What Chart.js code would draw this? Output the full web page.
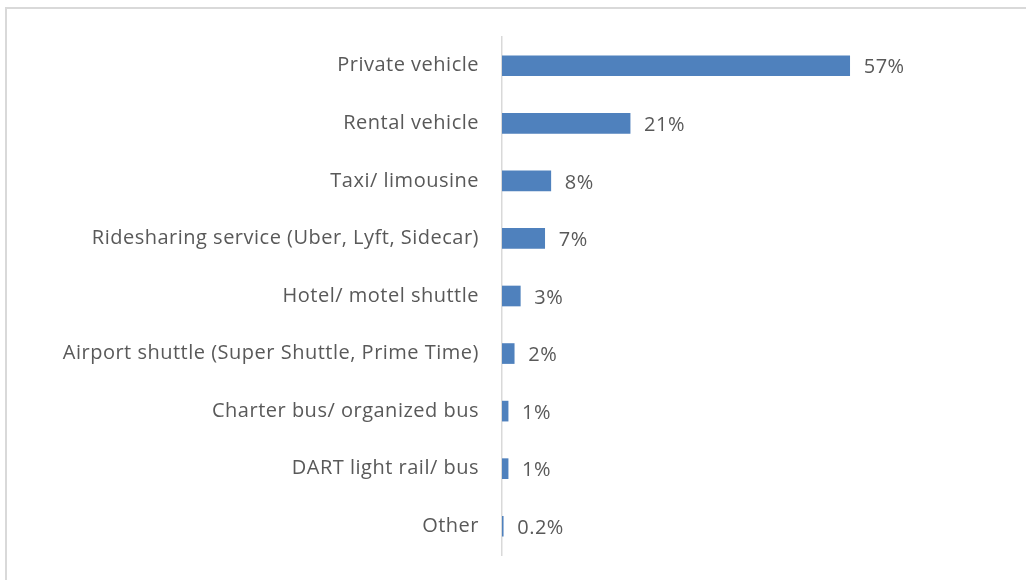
<html lang="en">
<head>
  <meta charset="UTF-8">
  <title>Ground transportation mode</title>
  <script src="https://cdn.jsdelivr.net/npm/chart.js"></script>
  <style>
    body, html {
      margin: 0;
      padding: 0;
      background-color: #ffffff;
      overflow: hidden;
    }
    .frame {
      position: absolute;
      left: 5px;
      top: 7px;
      width: 1100px;
      height: 700px;
      border: 2px solid #d9d9d9;
    }
    #myChart {
      position: absolute;
      left: 0;
      top: 0;
    }
  </style>
</head>
<body>
  <div class="frame"></div>
  <canvas id="myChart" width="1026" height="580"></canvas>

  <script>
    const categories = [
      'Private vehicle',
      'Rental vehicle',
      'Taxi/ limousine',
      'Ridesharing service (Uber, Lyft, Sidecar)',
      'Hotel/ motel shuttle',
      'Airport shuttle (Super Shuttle, Prime Time)',
      'Charter bus/ organized bus',
      'DART light rail/ bus',
      'Other'
    ];
    const shares = [57, 21, 8, 7, 3, 2, 1, 1, 0.2];
    const shareLabels = ['57%', '21%', '8%', '7%', '3%', '2%', '1%', '1%', '0.2%'];

    const textColor = '#595959';
    const fontFamily = '"Open Sans", sans-serif';
    const fontSize = 20;

    // slightly wider lettering for all chart text
    const spacing = {
      id: 'spacing',
      beforeDraw(chart) {
        chart.ctx.letterSpacing = '0.5px';
      }
    };

    // percentage text just past the end of each bar
    const valueLabels = {
      id: 'valueLabels',
      afterDatasetsDraw(chart) {
        const { ctx } = chart;
        const meta = chart.getDatasetMeta(0);
        ctx.save();
        ctx.letterSpacing = '0.5px';
        ctx.fillStyle = textColor;
        ctx.font = fontSize + 'px ' + fontFamily;
        ctx.textAlign = 'left';
        ctx.textBaseline = 'middle';
        meta.data.forEach((bar, i) => {
          ctx.fillText(shareLabels[i], bar.x + 14, bar.y + 2);
        });
        ctx.restore();
      }
    };

    const ctx = document.getElementById('myChart').getContext('2d');
    const myChart = new Chart(ctx, {
      type: 'bar',
      data: {
        labels: categories,
        datasets: [{
          data: shares,
          backgroundColor: '#4f81bd',
          borderWidth: 0,
          barThickness: 20
        }]
      },
      options: {
        indexAxis: 'y',
        responsive: false,
        animation: false,
        layout: {
          padding: { top: 37, bottom: 25, left: 0, right: 36 }
        },
        scales: {
          x: {
            display: false,
            min: 0,
            max: 80
          },
          y: {
            afterFit(scale) {
              scale.width = 502;
              scale.paddingTop = 0;
              scale.paddingBottom = 0;
            },
            grid: { display: false, drawTicks: false },
            border: { display: true, color: '#d9d9d9', width: 1.5 },
            ticks: {
              color: textColor,
              font: { family: fontFamily, size: fontSize },
              padding: 23
            }
          }
        },
        plugins: {
          legend: { display: false },
          tooltip: { enabled: false }
        }
      },
      plugins: [spacing, valueLabels]
    });
  </script>
</body>
</html>
